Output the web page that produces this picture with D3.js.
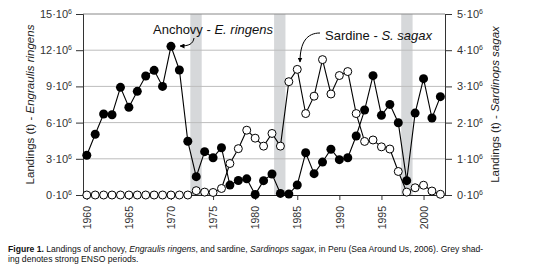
<!DOCTYPE html>
<html>
<head>
<meta charset="utf-8">
<script src="https://cdn.jsdelivr.net/npm/d3@7"></script>
<style>
  body { margin: 0; background: #fff; }
  svg { font-family: "Liberation Sans", Arial, sans-serif; }
</style>
</head>
<body>
<svg id="chart" width="550" height="267"></svg>
<script>
// landings, millions of tonnes
const years = d3.range(1960, 2003)
const anchovy = [3.29, 5.03, 6.71, 6.65, 8.92, 7.27, 8.59, 9.86, 10.33, 9.0,
  12.32, 10.36, 4.45, 1.52, 3.59, 3.09, 3.92, 0.82, 1.2, 1.34,
  0.04, 1.19, 1.74, 0.13, 0.08, 0.83, 3.5, 1.77, 2.73, 3.79,
  2.93, 3.09, 4.89, 7.04, 9.89, 6.6, 7.51, 5.99, 1.19, 6.79,
  9.64, 6.38, 8.15]
const sardine = [0, 0, 0, 0, 0, 0, 0, 0, 0, 0,
  0, 0, 0, 0.12, 0.08, 0.07, 0.18, 0.87, 1.28, 1.79,
  1.57, 1.35, 1.70, 1.35, 3.13, 3.47, 2.25, 2.73, 3.74, 2.79,
  3.30, 3.41, 2.25, 1.48, 1.52, 1.33, 1.27, 0.65, 0.08, 0.2,
  0.27, 0.11, 0.02]
const ensoPeriods = [[1972.3, 1973.65], [1982.25, 1983.6], [1997.35, 1998.7]]
const leftTicks = [0, 3, 6, 9, 12, 15]
const rightTicks = [0, 1, 2, 3, 4, 5]
const yearTicks = d3.range(1960, 2001, 5)

const svg = d3.select('#chart')
const pLeft = 83, pRight = 445, pTop = 14, pBottom = 195

const x = d3.scaleLinear().domain([1959.55, 2002.55]).range([pLeft, pRight])
const yL = d3.scaleLinear().domain([0, 15]).range([pBottom, pTop])
const yR = d3.scaleLinear().domain([0, 5]).range([pBottom, pTop])

// ENSO shading
svg.append('g').selectAll('rect')
  .data(ensoPeriods)
  .enter().append('rect')
    .attr('x', d => x(d[0]))
    .attr('width', d => x(d[1]) - x(d[0]))
    .attr('y', pTop)
    .attr('height', pBottom - pTop)
    .attr('fill', '#d6d8da')

// gridlines
svg.append('g').selectAll('line')
  .data(leftTicks.filter(d => d > 0))
  .enter().append('line')
    .attr('x1', pLeft).attr('x2', pRight)
    .attr('y1', d => yL(d)).attr('y2', d => yL(d))
    .attr('stroke', d => d === 15 ? '#888' : '#bdbdbd')
    .attr('stroke-width', 1)

function sup(sel) {
  sel.text('')
  sel.append('tspan').text(d => d + '·10')
  sel.append('tspan').text('6').attr('font-size', 7).attr('dy', -4)
}

// left axis
const gL = svg.append('g')
  .attr('transform', `translate(${pLeft},0)`)
  .call(d3.axisLeft(yL).tickValues(leftTicks).tickSize(7).tickPadding(4))
gL.select('.domain').attr('stroke', '#333')
gL.selectAll('.tick line').attr('stroke', '#333')
gL.selectAll('.tick text').attr('font-size', 11).attr('fill', '#333')
  .attr('font-family', null).each(function () { sup(d3.select(this)) })

// right axis
const gR = svg.append('g')
  .attr('transform', `translate(${pRight},0)`)
  .call(d3.axisRight(yR).tickValues(rightTicks).tickSize(7).tickPadding(5))
gR.select('.domain').attr('stroke', '#333')
gR.selectAll('.tick line').attr('stroke', '#333')
gR.selectAll('.tick text').attr('font-size', 11).attr('fill', '#333')
  .attr('font-family', null).each(function () { sup(d3.select(this)) })

// bottom axis
const gB = svg.append('g')
  .attr('transform', `translate(0,${pBottom})`)
  .call(d3.axisBottom(x).tickValues(yearTicks).tickFormat(d3.format('d')).tickSize(5).tickSizeOuter(0))
gB.select('.domain').attr('stroke', '#222')
gB.selectAll('.tick line').attr('stroke', '#333')
gB.selectAll('.tick text')
  .attr('font-size', 10.5).attr('fill', '#333').attr('font-family', null)
  .attr('transform', 'rotate(-90)')
  .attr('text-anchor', 'end')
  .attr('x', -11).attr('y', 0).attr('dy', '0.35em')

// series
const lineA = d3.line().x((d, i) => x(years[i])).y(d => yL(d))
const lineS = d3.line().x((d, i) => x(years[i])).y(d => yR(d))

svg.append('path').datum(anchovy)
  .attr('d', lineA).attr('fill', 'none').attr('stroke', '#000').attr('stroke-width', 1.1)
svg.append('g').selectAll('circle')
  .data(anchovy)
  .enter().append('circle')
    .attr('cx', (d, i) => x(years[i]))
    .attr('cy', d => yL(d))
    .attr('r', 4.5)
    .attr('fill', '#000')

svg.append('path').datum(sardine)
  .attr('d', lineS).attr('fill', 'none').attr('stroke', '#000').attr('stroke-width', 1.1)
svg.append('g').selectAll('circle')
  .data(sardine)
  .enter().append('circle')
    .attr('cx', (d, i) => x(years[i]))
    .attr('cy', d => yR(d))
    .attr('r', 4)
    .attr('fill', '#fff')
    .attr('stroke', '#000')
    .attr('stroke-width', 1)

// axis titles
svg.append('text')
  .attr('transform', `translate(34,${(pTop + pBottom) / 2}) rotate(-90)`)
  .attr('text-anchor', 'middle').attr('font-size', 11.5).attr('fill', '#222')
  .call(t => {
    t.append('tspan').text('Landings (t) - ')
    t.append('tspan').text('Engraulis ringens').attr('font-style', 'italic')
  })
svg.append('text')
  .attr('transform', `translate(499,${(pTop + pBottom) / 2}) rotate(-90)`)
  .attr('text-anchor', 'middle').attr('font-size', 11.5).attr('fill', '#222')
  .call(t => {
    t.append('tspan').text('Landings (t) - ')
    t.append('tspan').text('Sardinops sagax').attr('font-style', 'italic')
  })

// annotations
svg.append('defs').append('marker')
  .attr('id', 'arr').attr('viewBox', '0 0 10 10').attr('refX', 9).attr('refY', 5)
  .attr('markerWidth', 5).attr('markerHeight', 5).attr('orient', 'auto')
  .append('path').attr('d', 'M0,0L10,5L0,10z').attr('fill', '#000')

svg.append('text').attr('x', 153).attr('y', 34).attr('font-size', 13).attr('fill', '#111')
  .call(t => {
    t.append('tspan').text('Anchovy - ')
    t.append('tspan').text('E. ringens').attr('font-style', 'italic')
  })
svg.append('path')
  .attr('d', 'M194,38 C193,44 189,46 180,46')
  .attr('fill', 'none').attr('stroke', '#000').attr('marker-end', 'url(#arr)')

svg.append('text').attr('x', 325).attr('y', 40).attr('font-size', 13).attr('fill', '#111')
  .call(t => {
    t.append('tspan').text('Sardine - ')
    t.append('tspan').text('S. sagax').attr('font-style', 'italic')
  })
svg.append('path')
  .attr('d', 'M320,33 C307,33 300,42 300,62')
  .attr('fill', 'none').attr('stroke', '#000').attr('marker-end', 'url(#arr)')

// caption
const cap = svg.append('text').attr('x', 8).attr('y', 252).attr('font-size', 8.6).attr('fill', '#111')
cap.append('tspan').text('Figure 1.').attr('font-weight', 'bold')
cap.append('tspan').text(' Landings of anchovy, ')
cap.append('tspan').text('Engraulis ringens').attr('font-style', 'italic')
cap.append('tspan').text(', and sardine, ')
cap.append('tspan').text('Sardinops sagax').attr('font-style', 'italic')
cap.append('tspan').text(', in Peru (Sea Around Us, 2006).  Grey shad-')
svg.append('text').attr('x', 8).attr('y', 262).attr('font-size', 8.6).attr('fill', '#111')
  .text('ing denotes strong ENSO periods.')
</script>
</body>
</html>
